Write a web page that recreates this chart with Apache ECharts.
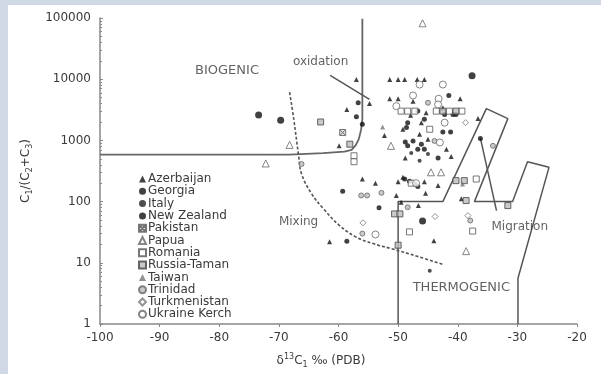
<!DOCTYPE html>
<html>
<head>
<meta charset="utf-8">
<script src="https://cdn.jsdelivr.net/npm/echarts@6/dist/echarts.min.js"></script>
<style>
  html, body { margin: 0; padding: 0; background: #d0d8e6; }
  #chart { width: 601px; height: 374px; }
</style>
</head>
<body>
<div id="chart"></div>
<script>
// δ13C1 (x) vs C1/(C2+C3) (y), per country
const azerbaijan = [[-57.0,9860],[-51.4,9860],[-50.0,9860],[-48.9,9860],[-46.8,9860],[-45.6,9860],[-51.4,4790],[-50.0,4790],[-39.6,4790],[-47.5,4380],[-54.8,4020],[-58.6,3210],[-42.5,3420],[-45.3,2840],[-47.9,2570],[-46.1,1950],[-49.2,1520],[-52.3,1200],[-46.4,1260],[-45.0,1045],[-41.9,720],[-48.8,514],[-41.1,548],[-59.9,815],[-36.6,2270],[-49.2,250],[-56.0,234],[-53.8,200],[-50.0,212],[-45.6,212],[-43.3,183],[-50.3,126],[-45.4,137],[-49.5,98],[-46.6,86],[-44.0,23],[-61.5,22],[-39.4,111]];
const georgia = [[-56.7,4120],[-41.5,5420],[-57.0,2440],[-56.0,1830],[-48.4,1950],[-48.6,1620],[-42.5,1375],[-41.2,1375],[-48.8,945],[-47.5,980],[-46.1,867],[-48.4,815],[-46.7,720],[-45.6,720],[-43.3,514],[-45.6,2210],[-42.2,2660],[-40.8,2660],[-40.3,2660],[-46.7,3010],[-36.2,1075],[-59.3,148],[-53.2,79],[-58.6,22.5],[-48.9,234],[-48.1,215],[-47.2,194],[-46.7,176]];
const italy = [[-44.7,7.4],[-47.8,620],[-45.0,597],[-46.4,465]];
const newZealand = [[-37.6,11430],[-73.4,2590],[-69.7,2130],[-45.9,48]];
const pakistan = [[-59.3,1345]];
const papua = [[-45.9,82000],[-68.2,845],[-72.2,420],[-51.2,815],[-44.5,301],[-42.8,301],[-38.6,15.5]];
const romania = [[-57.4,560],[-57.4,448],[-49.5,3010],[-48.4,3010],[-47.2,3010],[-43.6,3010],[-41.4,3010],[-39.3,3010],[-48.1,32],[-37.5,33],[-47.8,200],[-36.9,234],[-44.7,1520]];
const russiaTaman = [[-63.0,2000],[-58.1,867],[-50.6,63],[-49.7,63],[-50.0,19.4],[-38.6,104],[-31.6,86],[-42.5,3010],[-40.3,3010],[-40.3,220],[-38.9,220]];
const taiwan = [[-52.6,1650],[-39.2,194]];
const trinidad = [[-45.0,4120],[-43.9,980],[-66.2,411],[-56.2,126],[-55.2,126],[-52.8,139],[-48.4,81],[-34.1,815],[-37.9,49],[-56.0,30]];
const turkmenistan = [[-55.9,45],[-43.8,57],[-38.3,59],[-38.7,1950]];
const ukraineKerch = [[-46.4,8170],[-42.5,8170],[-47.5,5420],[-43.2,4790],[-50.3,3630],[-43.3,3870],[-42.2,1950],[-43.0,925],[-53.8,29],[-47.0,200]];

// genetic field boundaries
const biogenicLine = [[-100,584],[-68.2,584],[-62.6,620],[-59.0,655],[-57.8,700],[-57.1,836],[-56.6,1050],[-56.2,1510],[-56.0,2210],[-56.0,97000]];
const thermogenicLine = [[-50,1],[-50,100],[-42.5,100],[-35.2,3300],[-31.6,2270],[-37.2,100],[-30.8,100],[-28.3,448],[-24.7,363],[-29.9,5.6],[-29.9,1]];
const oxidationLine = [[-61.4,11560],[-54.8,4670]];
const migrationLine = [[-36.2,1086],[-33.5,71]];
const mixingCurve = [[-68.2,6125],[-67.5,2208],[-66.7,575],[-66.2,283],[-64.5,134],[-62.5,76],[-60.0,42],[-57.2,26.8],[-54.2,20.6],[-51.2,17.1],[-46.7,12.7],[-42.5,9.4]];

const fieldLabels = [
  {name: 'BIOGENIC', value: [-78.7, 13800], size: 13},
  {name: 'oxidation', value: [-63.0, 19300], size: 12},
  {name: 'Mixing', value: [-66.7, 47], size: 12},
  {name: 'Migration', value: [-29.6, 39], size: 12},
  {name: 'THERMOGENIC', value: [-39.4, 4.0], size: 13}
];

const xTicks = [-100, -90, -80, -70, -60, -50, -40, -30, -20];
const yMajor = [1, 10, 100, 1000, 10000, 100000];
const yMinor = [];
for (let k = 0; k < 5; k++) {
  for (let m = 2; m < 10; m++) yMinor.push(m * Math.pow(10, k));
}

const FONT = 'DejaVu Sans';
const TXT = '#3a3a3a';

const pts = (name, data, symbol, size, color, border) => ({
  name, type: 'scatter', data, symbol, symbolSize: size, z: 5,
  itemStyle: {color, borderColor: border || color, borderWidth: border ? 1 : 0}
});
const bound = (data, extra) => Object.assign({
  type: 'line', data, symbol: 'none', silent: true, z: 3,
  lineStyle: {color: '#555', width: 1.5}
}, extra || {});

const countries = ['Azerbaijan','Georgia','Italy','New Zealand','Pakistan','Papua','Romania','Russia-Taman','Taiwan','Trinidad','Turkmenistan','Ukraine Kerch'];

const option = {
  backgroundColor: '#d0d8e6',
  animation: false,
  textStyle: {fontFamily: FONT},
  graphic: [{type: 'rect', left: 8, top: 5, z: -10, shape: {width: 593, height: 369}, style: {fill: '#ffffff'}}],
  grid: {left: 100, right: 24, top: 18, bottom: 48},
  legend: {
    data: countries,
    orient: 'vertical',
    left: 133, top: 168,
    itemWidth: 7, itemHeight: 7, itemGap: 0.3,
    textStyle: {fontFamily: FONT, fontSize: 12, color: TXT, lineHeight: 12, padding: [0, 0, 0, -3]}
  },
  xAxis: {
    type: 'value', min: -100, max: -20, interval: 10,
    splitLine: {show: false},
    axisLine: {lineStyle: {color: '#888', width: 1.5}},
    axisTick: {length: 3, lineStyle: {color: '#888'}},
    axisLabel: {fontFamily: FONT, fontSize: 12, color: TXT, margin: 8, customValues: xTicks},
    name: '{c|δ}{p|13}{c|C}{s|1}{c| ‰ (PDB)}',
    nameLocation: 'middle', nameGap: 29,
    nameTextStyle: {
      padding: [0, 35, 0, 0],
      rich: {
        c: {fontFamily: FONT, fontSize: 12, color: TXT, lineHeight: 16},
        p: {fontFamily: FONT, fontSize: 8, color: TXT, lineHeight: 9, verticalAlign: 'top'},
        s: {fontFamily: FONT, fontSize: 8, color: TXT, lineHeight: 9, verticalAlign: 'bottom'}
      }
    }
  },
  yAxis: [{
    type: 'log', logBase: 10, min: 1, max: 100000,
    splitLine: {show: false},
    axisLine: {lineStyle: {color: '#888', width: 1.5}},
    axisTick: {inside: true, length: 3, lineStyle: {color: '#888'}},
    axisLabel: {fontFamily: FONT, fontSize: 12, color: TXT, margin: 9, customValues: yMajor, formatter: v => String(v)},
    name: '{c|C}{s|1}{c|/(C}{s|2}{c|+C}{s|3}{c|)}',
    nameLocation: 'middle', nameGap: 64,
    nameTextStyle: {
      rich: {
        c: {fontFamily: FONT, fontSize: 12, color: TXT, lineHeight: 16},
        s: {fontFamily: FONT, fontSize: 8, color: TXT, lineHeight: 9, verticalAlign: 'bottom'}
      }
    }
  }, {
    type: 'log', logBase: 10, min: 1, max: 100000, position: 'left',
    splitLine: {show: false},
    axisLine: {show: false},
    axisLabel: {show: false},
    axisTick: {inside: true, length: 2, customValues: yMinor, lineStyle: {color: '#888'}}
  }],
  series: [
    bound(biogenicLine, {lineStyle: {color: '#666', width: 1.8}}),
    bound(thermogenicLine),
    bound(oxidationLine),
    bound(migrationLine),
    bound(mixingCurve, {smooth: 0.4, lineStyle: {color: '#555', width: 1.6, type: [3, 2]}}),
    pts('Azerbaijan', azerbaijan, 'triangle', 5, '#111'),
    pts('Georgia', georgia, 'circle', 5, '#111'),
    pts('Italy', italy, 'circle', 4, '#222'),
    pts('New Zealand', newZealand, 'circle', 7, '#111'),
    pts('Pakistan', pakistan, 'path://M0,0H10V10H0Z M1,1L9,9 M9,1L1,9', 6, '#ddd', '#555'),
    pts('Papua', papua, 'triangle', 7, '#fff', '#666'),
    pts('Romania', romania, 'rect', 6, '#fff', '#555'),
    pts('Russia-Taman', russiaTaman, 'rect', 6, '#bbb', '#444'),
    pts('Taiwan', taiwan, 'triangle', 5, '#777'),
    pts('Trinidad', trinidad, 'circle', 5, '#bbb', '#666'),
    pts('Turkmenistan', turkmenistan, 'diamond', 6, '#fff', '#777'),
    pts('Ukraine Kerch', ukraineKerch, 'circle', 7, '#fff', '#666'),
    {
      type: 'scatter', silent: true, symbolSize: 0, z: 6,
      data: fieldLabels.map(d => ({name: d.name, value: d.value, label: {fontSize: d.size}})),
      label: {show: true, position: 'inside', formatter: '{b}', color: TXT, fontFamily: FONT}
    }
  ]
};

const myChart = echarts.init(document.getElementById('chart'));
myChart.setOption(option);
</script>
</body>
</html>
